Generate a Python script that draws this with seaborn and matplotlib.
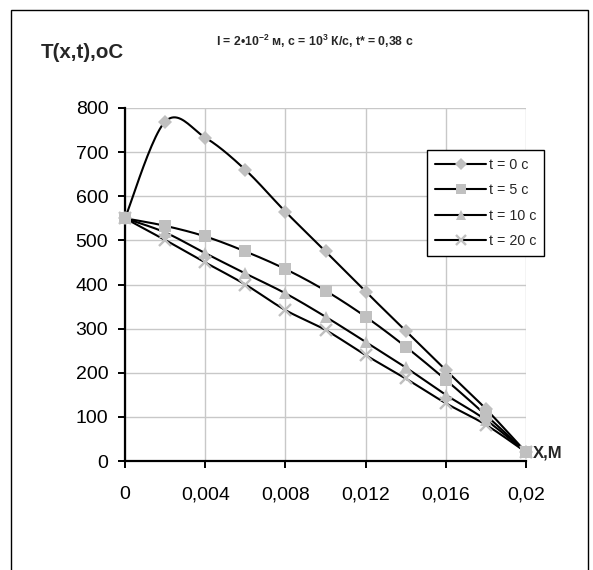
import numpy as np
import pandas as pd
import matplotlib
matplotlib.use("Agg")
import matplotlib.pyplot as plt
import seaborn as sns
from matplotlib.lines import Line2D
from matplotlib.patches import Rectangle

x_vals = [0, 0.002, 0.004, 0.006, 0.008, 0.010, 0.012, 0.014, 0.016, 0.018, 0.020]
t0 = [550, 769, 733, 660, 565, 475, 384, 295, 206, 118, 20]
t5 = [550, 533, 509, 475, 435, 386, 327, 259, 184, 104, 20]
t10 = [550, 518, 471, 425, 380, 327, 270, 212, 150, 93, 20]
t20 = [550, 501, 450, 400, 342, 297, 240, 187, 131, 82, 20]
labels = ["t = 0 с", "t = 5 с", "t = 10 с", "t = 20 с"]
x_ticks = [0, 0.004, 0.008, 0.012, 0.016, 0.02]
x_ticklabels = ["0", "0,004", "0,008", "0,012", "0,016", "0,02"]
y_ticks = [0, 100, 200, 300, 400, 500, 600, 700, 800]

sns.set_theme(style="white")
plt.rcParams['font.family'] = ['Liberation Sans', 'DejaVu Sans']
plt.rcParams['mathtext.fontset'] = 'custom'
plt.rcParams['mathtext.rm'] = 'Liberation Sans:bold'
plt.rcParams['mathtext.it'] = 'Liberation Sans:bold'
plt.rcParams['mathtext.bf'] = 'Liberation Sans:bold'


def smooth(x, y, n=24):
    P = np.column_stack([x, y]).astype(float)
    out = []
    m = len(P)
    for i in range(m - 1):
        p0 = P[i - 1] if i > 0 else P[i]
        p3 = P[i + 2] if i + 2 < m else P[i + 1]
        c1 = P[i] + (P[i + 1] - p0) / 6.0
        c2 = P[i + 1] - (p3 - P[i]) / 6.0
        s = np.linspace(0, 1, n)[:, None]
        seg = ((1 - s) ** 3) * P[i] + 3 * ((1 - s) ** 2) * s * c1 + 3 * (1 - s) * s ** 2 * c2 + s ** 3 * P[i + 1]
        if i > 0:
            seg = seg[1:]
        out.append(seg)
    out = np.vstack(out)
    return out[:, 0], out[:, 1]


fig = plt.figure(figsize=(5.93, 5.70), dpi=100)
ax = fig.add_axes([125 / 593, 1 - 461 / 570, 401 / 593, 353 / 570])

grey = "#C0C0C0"
series = [t0, t5, t10, t20]
markers = [dict(marker="D", ms=6.8, mew=0),
           dict(marker="s", ms=8.6, mew=0),
           dict(marker="^", ms=9.0, mew=0),
           dict(marker="x", ms=8.0, mew=1.7)]

handles = []
for vals, mk, lab in zip(series, markers, labels):
    sx, sy = smooth(x_vals, vals)
    df = pd.DataFrame({"x": sx, "y": sy})
    sns.lineplot(data=df, x="x", y="y", ax=ax, color="black", lw=1.5,
                 sort=False, estimator=None, zorder=3, clip_on=False)
    ax.plot(x_vals, vals, ls="none", color=grey, mfc=grey, mec=grey,
            zorder=4, clip_on=False, **mk)
    hmk = dict(mk)
    hmk["ms"] = mk["ms"] * 0.85
    handles.append(Line2D([0], [0], color="black", lw=1.5, mfc=grey, mec=grey, **hmk))

ax.set_xlim(0, 0.02)
ax.set_ylim(0, 800)
ax.set_xticks(x_ticks)
ax.set_xticklabels(x_ticklabels)
ax.set_yticks(y_ticks)
ax.set_xlabel("")
ax.set_ylabel("")
ax.grid(True, color="#C8C8C8", lw=1.0)
ax.set_axisbelow(True)
for side in ["top", "right"]:
    ax.spines[side].set_visible(False)
for side in ["left", "bottom"]:
    ax.spines[side].set_color("black")
    ax.spines[side].set_linewidth(1.6)
ax.tick_params(axis="both", which="major", direction="out", length=5,
               width=1.4, color="black", labelsize=14, labelcolor="black")
ax.tick_params(axis="x", pad=13)
ax.tick_params(axis="y", pad=7)
ax.tick_params(bottom=True, left=True)

leg = fig.legend(handles, labels, loc="upper left",
                 bbox_to_anchor=(427 / 593, 1 - 150 / 570),
                 fontsize=10.3, frameon=True, fancybox=False, framealpha=1,
                 edgecolor="black", handlelength=3.6, labelspacing=0.8,
                 handletextpad=0.2, borderpad=0.55, borderaxespad=0)
leg.get_frame().set_linewidth(1.0)

fig.text(41 / 593, 1 - 57.5 / 570, "T(x,t),оС", fontsize=14.8, fontweight="bold",
         ha="left", va="baseline")
fig.text(216 / 593, 1 - 46 / 570,
         "l = 2•$10^{-2}$ м, с = $10^{3}$ К/с, t* = 0,38 с",
         fontsize=8.8, fontweight="bold", ha="left", va="baseline")
fig.text(533 / 593, 1 - 457 / 570, "X,M", fontsize=12, fontweight="bold",
         ha="left", va="baseline")

fig.patches.append(Rectangle((11 / 593, -0.05), (588 - 11) / 593, 1.05 - 10 / 570,
                             transform=fig.transFigure, fill=False,
                             edgecolor="black", lw=1.0, zorder=0))

fig.savefig("out.png", dpi=100)
